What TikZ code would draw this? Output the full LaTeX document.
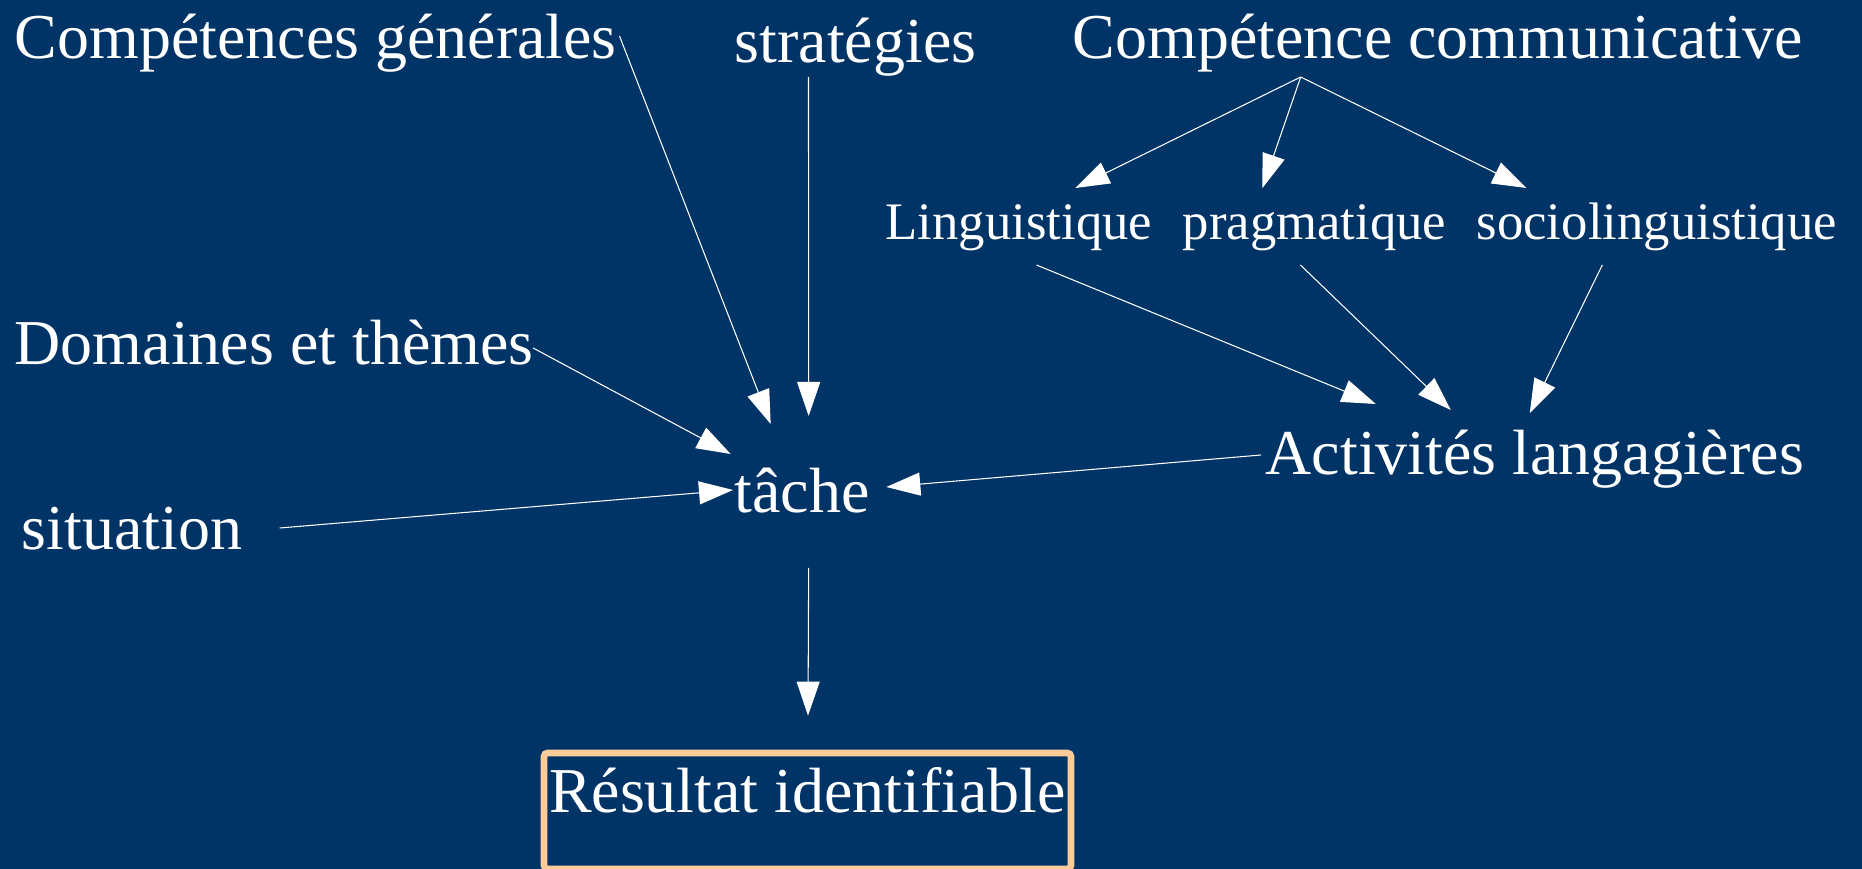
\documentclass[tikz,border=0pt]{standalone}
\usepackage{fontspec}
\setmainfont{Liberation Serif}
\usepackage{tikz}
\usepackage{xcolor}
\usetikzlibrary{calc,arrows.meta}

\definecolor{slideblue}{RGB}{0,51,102}
\definecolor{boxorange}{RGB}{255,204,153}

\begin{document}
\begin{tikzpicture}[x=0.1mm,y=-0.1mm]
    \tikzstyle{every node}=[text=white,inner sep=0pt,anchor=base west,font=\fontsize{18.2pt}{22pt}\selectfont]
    \tikzstyle{small}=[font=\fontsize{15pt}{18pt}\selectfont]
    \tikzstyle{arr}=[draw=white,line width=0.3pt,-{Triangle[length=3.4mm,width=2.3mm]}]

    \useasboundingbox (0,0) rectangle (1862,869);
    \fill[slideblue] (0,0) rectangle (1862,869);

    \node (gen) at (14,59) {Compétences générales};
    \node (strat) at (734,63) {stratégies};
    \node (comm) at (1072,59) {Compétence communicative};
    \node[small] (ling) at (885,240) {Linguistique};
    \node[small] (prag) at (1182,240) {pragmatique};
    \node[small] (socio) at (1476,240) {sociolinguistique};
    \node (dom) at (14,365) {Domaines et thèmes};
    \node (activ) at (1265,475) {Activités langagières};
    \node (tache) at (734,513) {tâche};
    \node (situ) at (21,550) {situation};
    \node[draw=boxorange,line width=1.9pt,rounded corners=1pt,anchor=base,
          inner xsep=0.5mm,text height=6.0mm,text depth=5.6mm] (result) at (807.5,813) {Résultat identifiable};

    % Split point under Compétence communicative
    \coordinate (split) at ($(comm.base)+(-137,18)$);

    \draw[arr] ($(gen.base east)+(2,-23)$) -- ($(tache.base)+(-31.5,-89)$);
    \draw[arr] ($(strat.base)+(-47,14)$) -- ($(tache.base)+(6.5,-97)$);
    \draw[arr] ($(dom.base east)+(-1,-17)$) -- ($(tache.base)+(-71.5,-59)$);
    \draw[arr] ($(situ.base east)+(37,-22)$) -- ($(tache.base west)+(-1,-23)$);
    \draw[arr] ($(activ.base west)+(-4,-20)$) -- ($(tache.base east)+(16,-26)$);
    \draw[arr] ($(tache.base)+(6.5,55)$) -- ($(result.north)+(0.5,-34)$);

    \draw[arr] (split) -- ($(ling.base)+(56.5,-52)$);
    \draw[arr] (split) -- ($(prag.base)+(-52,-52)$);
    \draw[arr] (split) -- ($(socio.base)+(-130.5,-52)$);

    \draw[arr] ($(ling.base)+(17.5,25)$) -- ($(activ.base)+(-159,-71)$);
    \draw[arr] ($(prag.base)+(-14,25)$) -- ($(activ.base)+(-84,-65)$);
    \draw[arr] ($(socio.base)+(-54.5,25)$) -- ($(activ.base)+(-5,-62)$);
\end{tikzpicture}
\end{document}
